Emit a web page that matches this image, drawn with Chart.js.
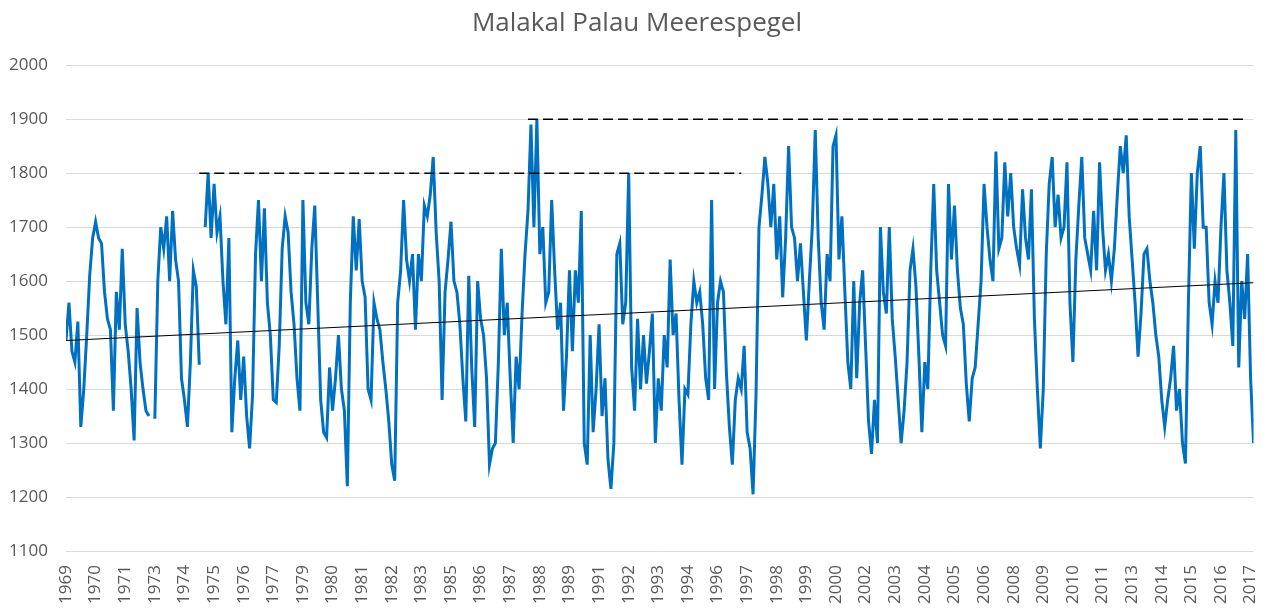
<!DOCTYPE html>
<html>
<head>
<meta charset="utf-8">
<title>Malakal Palau Meerespegel</title>
<script src="https://cdn.jsdelivr.net/npm/chart.js@4.4.1/dist/chart.umd.min.js"></script>
<style>
    body { margin: 0; background: #fff; }
    #wrap { width: 1277px; height: 614px; }
</style>
</head>
<body>
<div id="wrap"><canvas id="seaChart" width="1277" height="614"></canvas></div>
<script>
// year labels shown under the axis (one every 10 points)
const yearLabels = ['1969', '1970', '1971', '1973', '1974', '1975', '1976', '1977', '1979', '1980',
    '1981', '1982', '1983', '1985', '1986', '1987', '1988', '1989', '1991', '1992',
    '1993', '1994', '1996', '1997', '1998', '1999', '2000', '2002', '2003', '2004',
    '2005', '2006', '2008', '2009', '2010', '2011', '2013', '2014', '2015', '2016', '2017'];
const labelStep = 10;

// sea level (mm), null = gap in the record
const seaLevel = [
    1490, 1560, 1470, 1450, 1525, 1330, 1400, 1500, 1610, 1680,
    1710, 1680, 1670, 1580, 1530, 1510, 1360, 1580, 1510, 1660,
    1520, 1470, 1400, 1305, 1550, 1450, 1400, 1360, 1350, null,
    1345, 1600, 1700, 1660, 1720, 1600, 1730, 1640, 1600, 1420,
    1380, 1330, 1450, 1620, 1590, 1445, null, 1700, 1800, 1680,
    1780, 1690, 1720, 1600, 1520, 1680, 1320, 1420, 1490, 1380,
    1460, 1350, 1290, 1390, 1650, 1750, 1600, 1735, 1560, 1500,
    1380, 1375, 1480, 1660, 1720, 1690, 1580, 1520, 1420, 1360,
    1750, 1560, 1520, 1660, 1740, 1560, 1380, 1320, 1310, 1440,
    1360, 1420, 1500, 1400, 1360, 1220, 1560, 1720, 1620, 1715,
    1600, 1570, 1400, 1380, 1560, 1530, 1510, 1450, 1400, 1340,
    1260, 1230, 1560, 1620, 1750, 1640, 1600, 1650, 1510, 1650,
    1600, 1740, 1720, 1760, 1830, 1690, 1600, 1380, 1580, 1640,
    1710, 1600, 1580, 1520, 1420, 1340, 1610, 1440, 1330, 1600,
    1530, 1500, 1420, 1260, 1290, 1300, 1450, 1660, 1500, 1560,
    1420, 1300, 1460, 1400, 1540, 1650, 1730, 1890, 1700, 1900,
    1650, 1700, 1560, 1580, 1750, 1620, 1510, 1560, 1360, 1460,
    1620, 1470, 1620, 1560, 1730, 1300, 1260, 1500, 1320, 1400,
    1520, 1350, 1420, 1270, 1215, 1300, 1650, 1670, 1520, 1560,
    1800, 1440, 1360, 1530, 1400, 1500, 1410, 1470, 1540, 1300,
    1420, 1360, 1500, 1440, 1640, 1500, 1540, 1380, 1260, 1400,
    1390, 1520, 1600, 1560, 1580, 1520, 1420, 1380, 1750, 1400,
    1560, 1600, 1580, 1430, 1330, 1260, 1380, 1420, 1400, 1480,
    1320, 1290, 1205, 1390, 1700, 1760, 1830, 1780, 1700, 1780,
    1640, 1720, 1570, 1680, 1850, 1700, 1680, 1600, 1670, 1580,
    1490, 1600, 1700, 1880, 1680, 1560, 1510, 1650, 1600, 1850,
    1870, 1640, 1720, 1580, 1450, 1400, 1600, 1420, 1560, 1620,
    1480, 1340, 1280, 1380, 1300, 1700, 1580, 1540, 1700, 1530,
    1460, 1380, 1300, 1360, 1450, 1620, 1660, 1590, 1460, 1320,
    1450, 1400, 1620, 1780, 1620, 1560, 1500, 1480, 1780, 1640,
    1740, 1620, 1550, 1520, 1410, 1340, 1420, 1440, 1520, 1600,
    1780, 1700, 1640, 1600, 1840, 1660, 1680, 1820, 1720, 1800,
    1700, 1660, 1630, 1770, 1680, 1640, 1770, 1530, 1400, 1290,
    1400, 1650, 1780, 1830, 1700, 1760, 1680, 1700, 1820, 1560,
    1450, 1640, 1740, 1830, 1680, 1650, 1620, 1730, 1620, 1820,
    1700, 1620, 1650, 1600, 1660, 1760, 1850, 1800, 1870, 1720,
    1640, 1560, 1460, 1540, 1650, 1660, 1600, 1560, 1500, 1460,
    1380, 1330, 1380, 1420, 1480, 1360, 1400, 1300, 1262, 1560,
    1800, 1660, 1800, 1850, 1700, 1700, 1560, 1520, 1600, 1560,
    1700, 1800, 1620, 1560, 1480, 1880, 1440, 1600, 1530, 1650,
    1420, 1300
];

// linear trend, value at first and last point
const trendEnds = [1490, 1597];

// dashed reference levels: [level, first point, last point]
const level1800 = [1800, 45, 228];
const level1900 = [1900, 156, 398];

const lastIndex = seaLevel.length - 1;
const textColor = '#595959';

const mainData = seaLevel.map((v, i) => ({ x: i, y: v }));
const trendData = [{ x: 0, y: trendEnds[0] }, { x: lastIndex, y: trendEnds[1] }];
const dash1800 = [{ x: level1800[1], y: level1800[0] }, { x: level1800[2], y: level1800[0] }];
const dash1900 = [{ x: level1900[1], y: level1900[0] }, { x: level1900[2], y: level1900[0] }];

const ctx = document.getElementById('seaChart').getContext('2d');

const config = {
    type: 'line',
    data: {
        datasets: [
            {
                label: 'Trend',
                data: trendData,
                borderColor: '#000000',
                borderWidth: 1.2,
                pointRadius: 0,
            },
            {
                label: '1800',
                data: dash1800,
                borderColor: '#000000',
                borderWidth: 1.5,
                borderDash: [10, 5],
                pointRadius: 0,
            },
            {
                label: '1900',
                data: dash1900,
                borderColor: '#000000',
                borderWidth: 1.5,
                borderDash: [10, 5],
                pointRadius: 0,
            },
            {
                label: 'Meerespegel',
                data: mainData,
                borderColor: '#0070C0',
                borderWidth: 3,
                pointRadius: 0,
                tension: 0,
                spanGaps: false,
            },
        ],
    },
    options: {
        responsive: false,
        animation: false,
        layout: {
            padding: { left: 0, right: 3, top: 0, bottom: 0 },
        },
        plugins: {
            legend: { display: false },
            tooltip: { enabled: false },
            title: {
                display: true,
                text: 'Malakal Palau Meerespegel',
                color: textColor,
                font: { family: 'Open Sans', size: 26, weight: 'normal' },
                padding: { top: 8, bottom: 26 },
            },
        },
        scales: {
            x: {
                type: 'linear',
                min: 0,
                max: lastIndex,
                grid: { display: false },
                border: { display: false },
                afterBuildTicks: (scale) => {
                    scale.ticks = yearLabels.map((_, k) => ({ value: k * labelStep }));
                },
                afterFit: (scale) => { scale.height = 63; },
                ticks: {
                    autoSkip: false,
                    minRotation: 90,
                    maxRotation: 90,
                    padding: 6,
                    color: textColor,
                    font: { family: 'Open Sans', size: 17 },
                    callback: (value) => yearLabels[Math.round(value / labelStep)],
                },
            },
            y: {
                min: 1100,
                max: 2000,
                grid: { color: '#d9d9d9', lineWidth: 1, drawTicks: false },
                border: { display: false },
                afterFit: (scale) => { scale.width = 66; },
                ticks: {
                    stepSize: 100,
                    padding: 18,
                    color: textColor,
                    font: { family: 'Open Sans', size: 17 },
                    callback: (value) => String(value),
                },
            },
        },
    },
};

const chart = new Chart(ctx, config);
</script>
</body>
</html>
